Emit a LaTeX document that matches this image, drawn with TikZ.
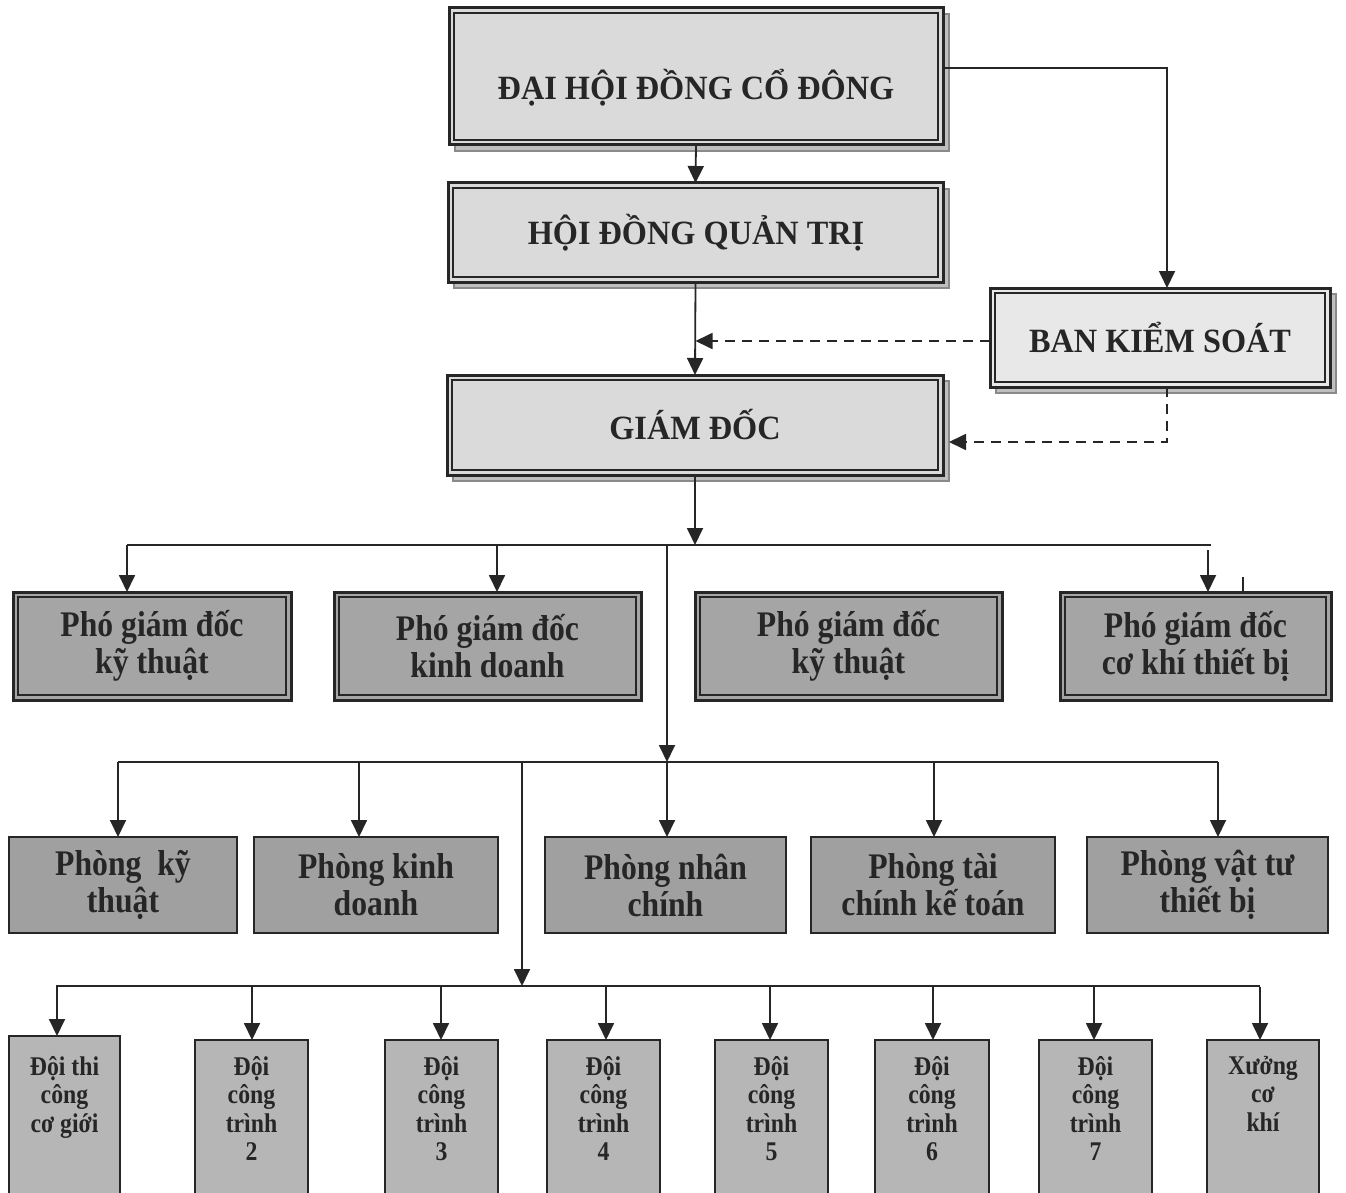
\documentclass[tikz,border=0pt]{standalone}
\usepackage{fontspec}
\setmainfont{Liberation Serif}
\newfontfamily\condfont[FakeStretch=0.88]{Liberation Serif}
\newfontfamily\semicond[FakeStretch=0.95]{Liberation Serif}
\usetikzlibrary{arrows.meta}
\definecolor{ink}{HTML}{262626}
\definecolor{topfill}{HTML}{DADADA}
\definecolor{bksfill}{HTML}{E8E8E8}
\definecolor{pgdfill}{HTML}{A5A5A5}
\definecolor{phfill}{HTML}{A0A0A0}
\definecolor{doifill}{HTML}{B6B6B6}
\definecolor{shadowc}{HTML}{8A8A8A}
\tikzset{
 conn/.style={draw=ink, line width=1.8pt},
 arr/.style={conn, -{Triangle[length=17pt,width=16pt]}},
 dashconn/.style={draw=ink, line width=1.8pt, dash pattern=on 10pt off 7pt},
 dasharr/.style={dashconn, -{Triangle[length=17pt,width=16pt]}},
 frame/.style={draw=ink, line width=3pt, inner sep=0pt, outer sep=0pt},
 sframe/.style={draw=ink, line width=2.2pt, inner sep=0pt, outer sep=0pt},
 innerline/.style={draw=ink, line width=1.5pt},
 shadowbox/.style={fill=shadowc!55, draw=shadowc, line width=1.2pt},
 toptext/.style={font=\semicond\fontsize{34}{38}\selectfont\bfseries, text=ink, anchor=base, inner sep=0pt},
 midtext/.style={font=\condfont\fontsize{36}{37}\selectfont\bfseries, text=ink, align=center, inner sep=0pt},
 doitext/.style={font=\condfont\fontsize{27}{28.5}\selectfont\bfseries, text=ink, align=center, anchor=north, inner sep=0pt},
}
% double frame with shadow: name x1 y1 x2 y2 fill
\newcommand\shframe[6]{%
  \path[shadowbox] (#2+6,#3+6) rectangle (#4+6,#5+6);
  \node[frame, fill=#6, minimum width={#4-#2}, minimum height={#5-#3}] (#1) at ({(#2+#4)/2},{(#3+#5)/2}) {};
  \draw[innerline] (#2+5,#3+5) rectangle (#4-5,#5-5);
}
% double frame without shadow, with text
\newcommand\dbframe[6]{%
  \node[frame, fill=pgdfill, minimum width={#4-#2}, minimum height={#5-#3}] (#1) at ({(#2+#4)/2},{(#3+#5)/2}) {};
  \draw[innerline] (#2+5,#3+5) rectangle (#4-5,#5-5);
  \node[midtext] (#1t) at (#1.center) {#6};
}
% single frame with text
\newcommand\sgframe[6]{%
  \node[sframe, fill=phfill, minimum width={#4-#2}, minimum height={#5-#3}] (#1) at ({(#2+#4)/2},{(#3+#5)/2}) {};
  \node[midtext] (#1t) at (#1.center) {#6};
}
% tall team box, text at top
\newcommand\doiframe[6]{%
  \node[sframe, line width=2pt, fill=doifill, minimum width={#4-#2}, minimum height={#5-#3}] (#1) at ({(#2+#4)/2},{(#3+#5)/2}) {};
  \node[doitext] (#1t) at ({(#2+#4)/2},1056) {#6};
}
\begin{document}
\begin{tikzpicture}[x=1pt,y=-1pt]
\useasboundingbox (0,0) rectangle (1346,1193);
\fill[white] (0,0) rectangle (1346,1193);
\clip (0,0) rectangle (1346,1193);

% top boxes
\shframe{dh}{449}{8}{943}{145}{topfill}
\node[toptext] (dht) at (696,100) {ĐẠI HỘI ĐỒNG CỔ ĐÔNG};
\shframe{hd}{448}{183}{943}{282}{topfill}
\node[toptext] (hdt) at (696,244) {HỘI ĐỒNG QUẢN TRỊ};
\shframe{gd}{447}{375}{943}{475}{topfill}
\node[toptext] (gdt) at (695,439) {GIÁM ĐỐC};
\shframe{bks}{990}{288}{1330}{387}{bksfill}
\node[toptext] (bkst) at (1160,352) {BAN KIỂM SOÁT};

% deputy directors
\dbframe{pgda}{13}{592}{291}{700}{Phó giám đốc\\kỹ thuật}
\dbframe{pgdb}{334}{592}{641}{700}{Phó giám đốc\\kinh doanh}
\dbframe{pgdc}{695}{592}{1002}{700}{Phó giám đốc\\kỹ thuật}
\dbframe{pgdd}{1060}{592}{1331}{700}{Phó giám đốc\\cơ khí thiết bị}

% departments
\sgframe{pha}{9}{837}{237}{933}{Phòng\ \ kỹ\\thuật}
\sgframe{phb}{254}{837}{498}{933}{Phòng kinh\\doanh}
\sgframe{phc}{545}{837}{786}{933}{Phòng nhân\\chính}
\sgframe{phd}{811}{837}{1055}{933}{Phòng tài\\chính kế toán}
\sgframe{phe}{1087}{837}{1328}{933}{Phòng vật tư\\thiết bị}

% teams
\doiframe{da}{9}{1036}{120}{1210}{Đội thi\\công\\cơ giới}
\doiframe{db}{195}{1040}{308}{1210}{Đội\\công\\trình\\2}
\doiframe{dc}{385}{1040}{498}{1210}{Đội\\công\\trình\\3}
\doiframe{dd}{547}{1040}{660}{1210}{Đội\\công\\trình\\4}
\doiframe{de}{715}{1040}{828}{1210}{Đội\\công\\trình\\5}
\doiframe{df}{875}{1040}{989}{1210}{Đội\\công\\trình\\6}
\doiframe{dg}{1039}{1040}{1152}{1210}{Đội\\công\\trình\\7}
\doiframe{dh8}{1207}{1040}{1319}{1210}{Xưởng\\cơ\\khí}

% top connectors
\draw[arr] (dh.south) -- (hd.north);
\draw[arr] (hd.south) -- (gd.north);
\coordinate (k1) at (1167,68);
\coordinate (k2) at (1167,442);
\coordinate (k3) at (990,341);
\draw[arr] (dh.east |- k1) -- (k1) -- (k1 |- bks.north);
\draw[dasharr] (k3) -- (k3 -| hd.south);
\draw[dasharr] (k2 |- bks.south) -- (k2) -- ([xshift=6pt]gd.east |- k2);

% level 1 bus
\coordinate (b1L) at (127,545);
\coordinate (b1R) at (1211,545);
\coordinate (b1a) at (497,545);
\coordinate (b1c) at (1208,550);
\coordinate (b1v) at (667,545);
\coordinate (tk) at (1243,577);
\draw[conn] (b1L) -- (b1R);
\draw[arr] (gd.south) -- (gd.south |- b1L);
\draw[arr] (b1L) -- (b1L |- pgda.north);
\draw[arr] (b1a) -- (b1a |- pgdb.north);
\draw[arr] (b1c) -- (b1c |- pgdd.north);
\draw[conn] (tk) -- (tk |- pgdd.north);

% level 2 bus
\coordinate (b2L) at (118,762);
\coordinate (b2R) at (1218,762);
\coordinate (b2v) at (667,762);
\coordinate (b2b) at (359,762);
\coordinate (b2d) at (934,762);
\coordinate (b2w) at (522,762);
\draw[arr] (b1v) -- (b2v);
\draw[conn] (b2L) -- (b2R);
\draw[arr] (b2L) -- (b2L |- pha.north);
\draw[arr] (b2b) -- (b2b |- phb.north);
\draw[arr] (b2v) -- (b2v |- phc.north);
\draw[arr] (b2d) -- (b2d |- phd.north);
\draw[arr] (b2R) -- (b2R |- phe.north);

% level 3 bus
\coordinate (b3L) at (56,986);
\coordinate (b3R) at (1260,986);
\coordinate (b3w) at (522,986);
\draw[arr] (b2w) -- (b3w);
\draw[conn] (b3L) -- (b3R);
\foreach \xx/\nn in {57/da,252/db,441/dc,606/dd,770/de,933/df,1094/dg,1260/dh8}{
  \coordinate (bt) at (\xx,987);
  \draw[arr] (bt) -- (bt |- \nn.north);
}
\end{tikzpicture}
\end{document}
